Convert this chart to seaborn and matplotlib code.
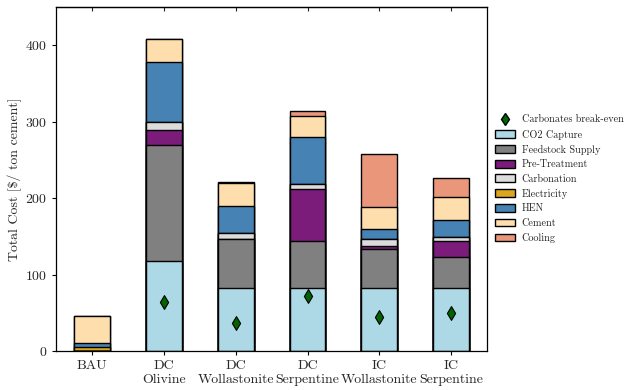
import numpy as np
import pandas as pd
import matplotlib
matplotlib.use("Agg")
import matplotlib.pyplot as plt
from matplotlib.lines import Line2D
import seaborn as sns

# Scenario labels
categories = ["BAU", "DC\nOlivine", "DC\nWollastonite", "DC\nSerpentine",
              "IC\nWollastonite", "IC\nSerpentine"]

# Cost components [$ / ton cement]
co2_capture   = [0.0, 118.0, 83.0, 83.0, 83.0, 83.0]
feedstock     = [0.0, 152.0, 63.0, 61.5, 50.0, 39.5]
pre_treatment = [0.0, 19.0, 0.0, 67.5, 4.0, 21.5]
carbonation   = [0.0, 10.0, 8.5, 6.0, 9.0, 4.5]
electricity   = [5.0, 0.0, 0.0, 0.0, 0.0, 0.0]
hen           = [5.5, 79.5, 35.0, 61.5, 13.0, 23.5]
cement        = [35.5, 29.5, 30.0, 28.5, 29.5, 29.5]
cooling       = [0.0, 0.0, 1.0, 5.5, 69.0, 24.5]

# Break-even cost of the carbonate products
breakeven = [np.nan, 63.5, 36.5, 72.0, 45.0, 49.5]

components = [
    ("CO2 Capture", co2_capture, "#add8e6"),
    ("Feedstock Supply", feedstock, "#808080"),
    ("Pre-Treatment", pre_treatment, "#7b1c7a"),
    ("Carbonation", carbonation, "#dcdcdc"),
    ("Electricity", electricity, "#daa520"),
    ("HEN", hen, "#4682b4"),
    ("Cement", cement, "#ffdead"),
    ("Cooling", cooling, "#e9967a"),
]

sns.set_theme(style="ticks")
plt.rcParams["font.family"] = ["cmr10", "DejaVu Serif"]
plt.rcParams["mathtext.fontset"] = "cm"
plt.rcParams["axes.formatter.use_mathtext"] = True

fig = plt.figure(figsize=(6.28, 3.90), dpi=100)
ax = fig.add_axes([0.0895, 0.10, 0.686, 0.882])

# Stacked bars: draw cumulative totals from the top component down
cum = np.cumsum(np.array([c[1] for c in components]), axis=0)
handles = {}
for i in range(len(components) - 1, -1, -1):
    name, _, col = components[i]
    df = pd.DataFrame({"scenario": categories, "cost": cum[i]})
    sns.barplot(data=df, x="scenario", y="cost", order=categories,
                color=col, saturation=1, edgecolor="black", linewidth=1.0,
                width=0.5, ax=ax, errorbar=None)
    handles[name] = plt.Rectangle((0, 0), 1, 1, facecolor=col,
                                  edgecolor="black", linewidth=1.0)

be = pd.DataFrame({"scenario": categories, "cost": breakeven})
sns.stripplot(data=be, x="scenario", y="cost", order=categories,
              jitter=False, marker="d", color="darkgreen", edgecolor="black",
              linewidth=0.8, size=7, ax=ax, zorder=5)

ax.set_xlim(-0.5, 5.5)
ax.set_ylim(0, 450)
ax.set_yticks([0, 100, 200, 300, 400])
ax.set_xlabel("")
ax.set_ylabel(r"Total Cost [\$/ ton cement]", fontsize=10, labelpad=2)
ax.tick_params(axis="both", labelsize=10, length=3, width=0.8, color="black")
for s in ax.spines.values():
    s.set_visible(True)
    s.set_linewidth(0.9)
    s.set_color("black")

top = ax.secondary_xaxis("top")
top.set_xticks(range(len(categories)))
top.tick_params(direction="in", labeltop=False, length=3, width=0.8)
top.spines["top"].set_linewidth(0.9)

leg_handles = [Line2D([], [], marker="d", color="darkgreen",
                      markeredgecolor="black", markersize=6, linestyle="")]
leg_labels = ["Carbonates break-even"]
for name, _, _ in components:
    leg_handles.append(handles[name])
    leg_labels.append(name)

fig.legend(leg_handles, leg_labels, loc="center left",
           bbox_to_anchor=(0.774, 0.541), frameon=False, fontsize=7.3,
           handlelength=2.0, handleheight=0.8, labelspacing=0.5,
           handletextpad=0.6)

fig.savefig("out.png", dpi=100)
